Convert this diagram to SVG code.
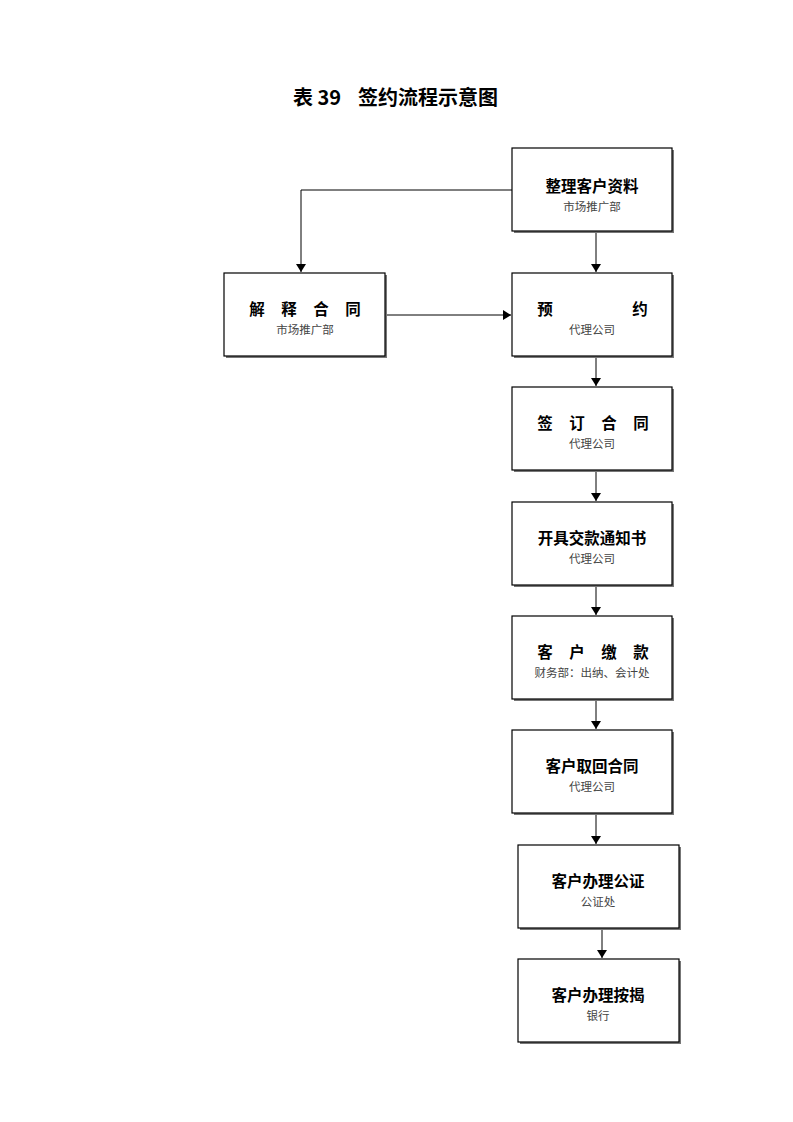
<svg xmlns="http://www.w3.org/2000/svg" width="793" height="1122" viewBox="0 0 793 1122">
<style>
.box{fill:#fff;stroke:#000;stroke-width:1.2}
.sh{fill:#777}
.m{font-family:"Noto Sans CJK SC","Noto Sans",sans-serif;font-size:15.5px;font-weight:bold;fill:#000;text-anchor:middle}
.s{font-family:"Noto Sans CJK SC","Noto Sans",sans-serif;font-size:11.5px;fill:#444;text-anchor:middle}
.t{font-family:"Noto Sans CJK SC","Liberation Sans",sans-serif;font-size:20px;font-weight:bold;fill:#000}
.c{fill:none;stroke:#000;stroke-width:1}
</style>
<defs>
<marker id="ah" markerWidth="8" markerHeight="10" refX="8" refY="5" orient="auto" markerUnits="userSpaceOnUse" viewBox="0 0 8 10">
<path d="M0,0 L8,5 L0,10 Z" fill="#000"/>
</marker>
</defs>
<rect width="793" height="1122" fill="#fff"/>
<text class="t" x="293" y="105">表 39</text>
<text class="t" x="358" y="105">签约流程示意图</text>

<g id="connectors">
<path class="c" d="M512,190 H301 V272" marker-end="url(#ah)"/>
<path class="c" d="M386,315 H511" marker-end="url(#ah)"/>
<path class="c" d="M596,231 V272" marker-end="url(#ah)"/>
<path class="c" d="M596,356 V386" marker-end="url(#ah)"/>
<path class="c" d="M596,470 V501" marker-end="url(#ah)"/>
<path class="c" d="M596,585 V615" marker-end="url(#ah)"/>
<path class="c" d="M596,699 V729" marker-end="url(#ah)"/>
<path class="c" d="M596,813 V844" marker-end="url(#ah)"/>
<path class="c" d="M602,928 V958" marker-end="url(#ah)"/>
</g>

<g id="n1">
<rect class="sh" x="514" y="150" width="160" height="83"/>
<rect class="box" x="512" y="148" width="160" height="83"/>
<text class="m" x="592" y="192">整理客户资料</text>
<text class="s" x="592" y="211">市场推广部</text>
</g>
<g id="n2">
<rect class="sh" x="226" y="275" width="161" height="83"/>
<rect class="box" x="224" y="273" width="161" height="83"/>
<text class="m" x="257" y="315">解</text><text class="m" x="289" y="315">释</text><text class="m" x="321" y="315">合</text><text class="m" x="353" y="315">同</text>
<text class="s" x="305" y="334">市场推广部</text>
</g>
<g id="n3">
<rect class="sh" x="514" y="275" width="160" height="83"/>
<rect class="box" x="512" y="273" width="160" height="83"/>
<text class="m" x="545" y="315">预</text><text class="m" x="640" y="315">约</text>
<text class="s" x="592" y="334">代理公司</text>
</g>
<g id="n4">
<rect class="sh" x="514" y="389" width="160" height="83"/>
<rect class="box" x="512" y="387" width="160" height="83"/>
<text class="m" x="545" y="429">签</text><text class="m" x="577" y="429">订</text><text class="m" x="609" y="429">合</text><text class="m" x="641" y="429">同</text>
<text class="s" x="592" y="448">代理公司</text>
</g>
<g id="n5">
<rect class="sh" x="514" y="504" width="160" height="83"/>
<rect class="box" x="512" y="502" width="160" height="83"/>
<text class="m" x="592" y="544">开具交款通知书</text>
<text class="s" x="592" y="563">代理公司</text>
</g>
<g id="n6">
<rect class="sh" x="514" y="618" width="160" height="83"/>
<rect class="box" x="512" y="616" width="160" height="83"/>
<text class="m" x="545" y="658">客</text><text class="m" x="577" y="658">户</text><text class="m" x="609" y="658">缴</text><text class="m" x="641" y="658">款</text>
<text class="s" x="592" y="677">财务部：出纳、会计处</text>
</g>
<g id="n7">
<rect class="sh" x="514" y="732" width="160" height="83"/>
<rect class="box" x="512" y="730" width="160" height="83"/>
<text class="m" x="592" y="772">客户取回合同</text>
<text class="s" x="592" y="791">代理公司</text>
</g>
<g id="n8">
<rect class="sh" x="520" y="847" width="161" height="83"/>
<rect class="box" x="518" y="845" width="161" height="83"/>
<text class="m" x="598" y="887">客户办理公证</text>
<text class="s" x="598" y="906">公证处</text>
</g>
<g id="n9">
<rect class="sh" x="520" y="961" width="161" height="83"/>
<rect class="box" x="518" y="959" width="161" height="83"/>
<text class="m" x="598" y="1001">客户办理按揭</text>
<text class="s" x="598" y="1020">银行</text>
</g>
</svg>
